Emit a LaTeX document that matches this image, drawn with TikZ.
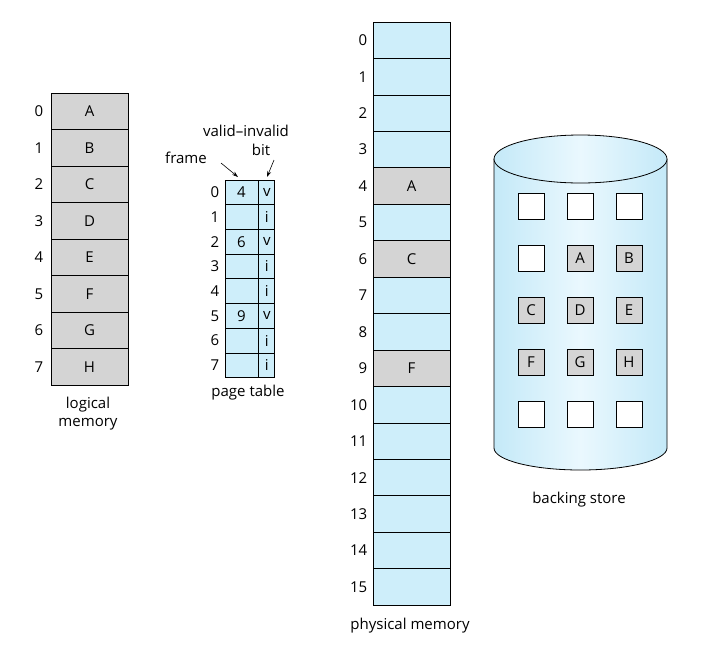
\documentclass[tikz,border=0pt]{standalone}
\usepackage{fontspec}
\setmainfont{Open Sans}
\usepackage{xcolor}
\usetikzlibrary{positioning, arrows.meta}

\definecolor{memblue}{RGB}{206,238,250}
\definecolor{memgray}{RGB}{212,212,212}
\definecolor{cylside}{RGB}{196,233,248}
\definecolor{cylmid}{RGB}{234,248,254}

\begin{document}
\begin{tikzpicture}[x=1pt, y=-1pt, font=\fontsize{15}{18}\selectfont,
        line width=0.8pt,
        cell/.style={draw, fill=memblue, inner sep=0pt, minimum width=77pt, minimum height=36.45pt},
        used/.style={fill=memgray},
        ptcell/.style={draw, fill=memblue, inner sep=0pt, minimum height=24.7pt},
        blk/.style={draw, fill=white, inner sep=0pt, minimum size=26pt},
        num/.style={inner sep=1pt},
        >={Stealth[length=6pt, width=4pt]}]
    \useasboundingbox (0,0) rectangle (715,646);

    % logical memory
    \foreach \l [count=\i from 0] in {A,B,C,D,E,F,G,H}
        \node[cell, used, minimum height=36.5pt] (lm\i) at (89.5, {93+36.5*(\i+0.5)}) {\l};
    \foreach \i in {0,...,7}
        \node[num, left=6pt of lm\i] (lmn\i) {\i};
    \node[align=center] (lmlabel) at (88,414) {logical\\memory};

    % page table
    \foreach \f/\b [count=\i from 0] in {4/v, /i, 6/v, /i, /i, 9/v, /i, /i} {
        \node[ptcell, minimum width=33pt] (fr\i) at (241.5, {180+24.7*(\i+0.5)}) {\f};
        \node[ptcell, minimum width=16pt, right=0pt of fr\i] (vb\i) {\b};
        \node[num, left=4pt of fr\i] (ptn\i) {\i};
    }
    \node (ptlabel) at (248,393) {page table};
    \node (framelbl) at (186,158) {frame};
    \node (vilbl) at (246,131) {valid--invalid};
    \node (bitlbl) at (261,150) {bit};
    \coordinate (fa) at (221,163);
    \coordinate (fb) at (238,177);
    \coordinate (ba) at (274,160);
    \coordinate (bb) at (267,177);
    \draw[->, line width=0.6pt] (fa) -- (fb);
    \draw[->, line width=0.6pt] (ba) -- (bb);

    % physical memory
    \foreach \i in {0,...,15}
        \node[cell] (pm\i) at (411.5, {22+36.45*(\i+0.5)}) {};
    \foreach \i/\l in {4/A, 6/C, 9/F}
        \node[cell, used] (pmu\i) at (pm\i) {\l};
    \foreach \i in {0,...,15}
        \node[num, left=4pt of pm\i] (pmn\i) {\i};
    \node (pmlabel) at (410,626) {physical memory};

    % backing store
    \path[left color=cylside, right color=cylside, middle color=cylmid, shading angle=90]
        (494,159) -- (494,448) arc[start angle=180, end angle=360, x radius=86.5pt, y radius=22pt]
        -- (667,159) -- cycle;
    \draw (494,159) -- (494,448) arc[start angle=180, end angle=360, x radius=86.5pt, y radius=22pt]
        -- (667,159);
    \draw[left color=cylside, right color=cylside, middle color=cylmid, shading angle=90]
        (580.5,159) ellipse[x radius=86.5pt, y radius=24pt];
    \foreach \r in {0,...,4}
        \foreach \c in {0,1,2}
            \node[blk] (bs\r\c) at ({531+49*\c}, {206+52*\r}) {};
    \foreach \r/\c/\l in {1/1/A, 1/2/B, 2/0/C, 2/1/D, 2/2/E, 3/0/F, 3/1/G, 3/2/H}
        \node[blk, fill=memgray] (bsu\r\c) at (bs\r\c) {\l};
    \node (bslabel) at (579,500) {backing store};
\end{tikzpicture}
\end{document}
